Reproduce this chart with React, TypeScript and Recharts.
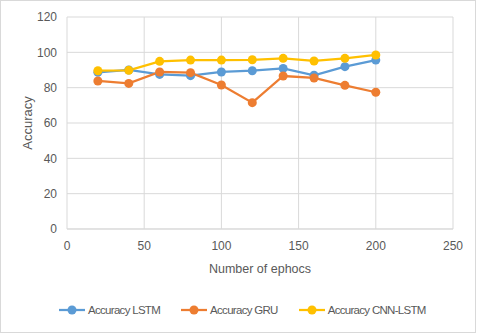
import React from "react";
import { LineChart, Line, XAxis, YAxis, CartesianGrid } from "recharts";

const epochs = [20, 40, 60, 80, 100, 120, 140, 160, 180, 200];
const lstm = [88.7, 90, 87.5, 86.8, 88.9, 89.6, 90.9, 87, 91.9, 95.6];
const gru = [83.8, 82.4, 88.9, 88.5, 81.5, 71.5, 86.6, 85.5, 81.3, 77.4];
const cnnLstm = [89.6, 89.8, 94.9, 95.6, 95.6, 95.8, 96.6, 95.1, 96.6, 98.5];
const xTicks = [0, 50, 100, 150, 200, 250];
const yTicks = [0, 20, 40, 60, 80, 100, 120];

const seriesNames = ["Accuracy LSTM", "Accuracy GRU", "Accuracy CNN-LSTM"];
const seriesColors = ["#5B9BD5", "#ED7D31", "#FFC000"];

const data = epochs.map((e, i) => ({
  epoch: e,
  lstm: lstm[i],
  gru: gru[i],
  cnn: cnnLstm[i],
}));

const FONT = "'Liberation Sans', Arial, sans-serif";
const TEXT = "#595959";

const LegendBox = () => (
  <div style={{ position: "absolute", left: 59, top: 304, display: "flex", alignItems: "center", whiteSpace: "nowrap", fontFamily: FONT, fontSize: 11.5, letterSpacing: -0.7, color: TEXT }}>
    {seriesNames.map((n, i) => (
      <div key={n} style={{ display: "flex", alignItems: "center", marginRight: 21 }}>
        <svg width={26} height={12} style={{ marginRight: 3 }}>
          <line x1={0} y1={6} x2={26} y2={6} stroke={seriesColors[i]} strokeWidth={2.25} />
          <circle cx={13} cy={6} r={4.5} fill={seriesColors[i]} />
        </svg>
        <span>{n}</span>
      </div>
    ))}
  </div>
);

export default function App() {
  const keys = ["lstm", "gru", "cnn"];
  return (
    <div style={{ position: "absolute", left: 0, top: 0, width: 477, height: 334, background: "#fff" }}>
      <div style={{ position: "absolute", left: 0, top: 0, width: 474, height: 331, border: "1px solid #D9D9D9" }} />
      <LineChart width={477} height={334} data={data} margin={{ top: 17, right: 24, left: 0, bottom: 0 }}>
        <CartesianGrid stroke="#D9D9D9" strokeWidth={1} />
        <XAxis
          dataKey="epoch"
          type="number"
          domain={[0, 250]}
          ticks={xTicks}
          height={105}
          tickLine={false}
          tickSize={0}
          tickMargin={12}
          axisLine={{ stroke: "#D9D9D9" }}
          tick={{ fill: TEXT, fontSize: 12, fontFamily: FONT }}
          label={{ value: "Number of ephocs", position: "insideTop", offset: 35, fill: TEXT, fontSize: 12.5, fontFamily: FONT }}
        />
        <YAxis
          type="number"
          domain={[0, 120]}
          ticks={yTicks}
          width={67}
          tickLine={false}
          axisLine={false}
          tickSize={0}
          tickMargin={10}
          tick={{ fill: TEXT, fontSize: 12, fontFamily: FONT }}
          label={{ value: "Accuracy", angle: -90, position: "insideLeft", offset: 27, fill: TEXT, fontSize: 13, fontFamily: FONT, style: { textAnchor: "middle" } }}
        />
        {keys.map((k, i) => (
          <Line
            key={k}
            dataKey={k}
            name={seriesNames[i]}
            stroke={seriesColors[i]}
            strokeWidth={2.25}
            dot={{ r: 4.5, fill: seriesColors[i], stroke: seriesColors[i], strokeWidth: 0 }}
            isAnimationActive={false}
          />
        ))}
      </LineChart>
      <LegendBox />
    </div>
  );
}
